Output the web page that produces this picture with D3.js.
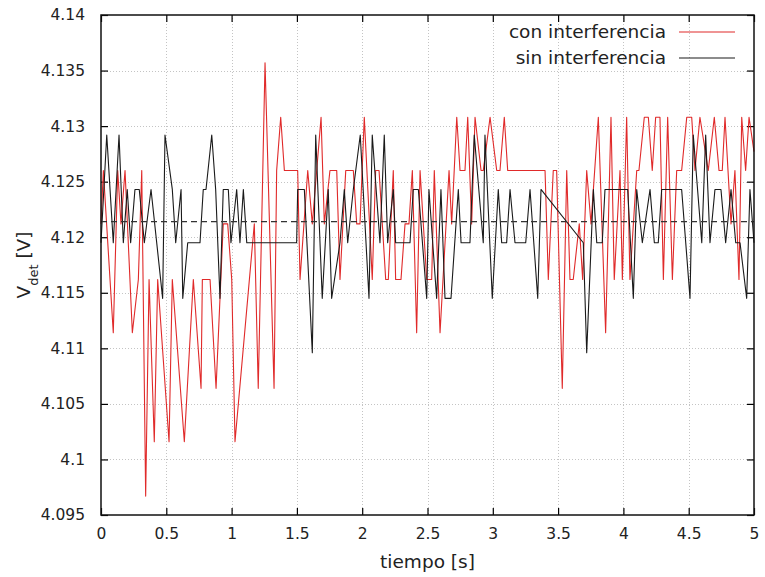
<!DOCTYPE html>
<html><head><meta charset="utf-8">
<script src="https://cdn.jsdelivr.net/npm/d3@7"></script>
<style>body{margin:0;background:#fff}svg{display:block}</style>
</head><body><svg id="c" width="765" height="577"></svg>
<script>
const xTicks=[0,0.5,1,1.5,2,2.5,3,3.5,4,4.5,5];
const xTickLabels=["0","0.5","1","1.5","2","2.5","3","3.5","4","4.5","5"];
const yTicks=[4.095,4.1,4.105,4.11,4.115,4.12,4.125,4.13,4.135,4.14];
const yTickLabels=["4.095","4.1","4.105","4.11","4.115","4.12","4.125","4.13","4.135","4.14"];
const seriesNames=["con interferencia","sin interferencia"];
const refLevel=4.1214;

const conT=[0.000,0.018,0.094,0.128,0.153,0.184,0.240,0.286,0.312,0.342,
0.368,0.408,0.434,0.521,0.546,0.638,0.707,0.766,0.776,0.835,
0.881,0.936,0.970,1.001,1.026,1.174,1.204,1.256,1.325,1.345,
1.376,1.404,1.506,1.524,1.583,1.618,1.685,1.710,1.753,1.805,
1.830,1.874,1.932,1.958,1.983,2.016,2.077,2.103,2.129,2.180,
2.200,2.238,2.256,2.297,2.328,2.358,2.384,2.417,2.443,2.494,
2.532,2.552,2.596,2.665,2.685,2.724,2.749,2.787,2.808,2.838,
2.864,2.910,2.927,2.979,3.030,3.055,3.088,3.114,3.400,3.425,
3.463,3.489,3.532,3.566,3.591,3.616,3.662,3.688,3.719,3.752,
3.808,3.864,3.905,3.930,3.974,3.992,4.025,4.050,4.102,4.119,
4.160,4.191,4.221,4.247,4.280,4.306,4.339,4.375,4.408,4.446,
4.485,4.523,4.548,4.586,4.650,4.696,4.732,4.757,4.778,4.824,
4.854,4.885,4.906,4.936,4.962,5.000];
const conV=[4.1212,4.1260,4.1114,4.1260,4.1212,4.1260,4.1114,4.1162,4.1260,4.0967,
4.1162,4.1016,4.1162,4.1016,4.1162,4.1016,4.1162,4.1064,4.1162,4.1162,
4.1064,4.1212,4.1212,4.1162,4.1016,4.1212,4.1064,4.1357,4.1064,4.1260,
4.1308,4.1260,4.1260,4.1162,4.1260,4.1212,4.1308,4.1212,4.1260,4.1260,
4.1162,4.1260,4.1260,4.1212,4.1212,4.1308,4.1162,4.1260,4.1260,4.1162,
4.1162,4.1260,4.1162,4.1162,4.1212,4.1212,4.1260,4.1114,4.1260,4.1162,
4.1162,4.1260,4.1114,4.1260,4.1212,4.1308,4.1260,4.1260,4.1308,4.1212,
4.1308,4.1260,4.1260,4.1308,4.1260,4.1260,4.1308,4.1260,4.1260,4.1162,
4.1260,4.1260,4.1064,4.1260,4.1162,4.1162,4.1212,4.1162,4.1260,4.1212,
4.1308,4.1114,4.1308,4.1162,4.1260,4.1162,4.1308,4.1162,4.1260,4.1260,
4.1308,4.1308,4.1260,4.1308,4.1308,4.1162,4.1308,4.1162,4.1260,4.1260,
4.1308,4.1308,4.1260,4.1308,4.1260,4.1308,4.1260,4.1260,4.1308,4.1212,
4.1260,4.1162,4.1308,4.1260,4.1308,4.1277];

const sinT=[0.000,0.044,0.094,0.138,0.171,0.201,0.227,0.260,0.293,0.332,
0.383,0.472,0.490,0.546,0.572,0.613,0.626,0.664,0.758,0.783,
0.804,0.848,0.878,0.911,0.936,0.975,0.995,1.039,1.064,1.090,
1.116,1.498,1.506,1.557,1.618,1.644,1.694,1.740,1.766,1.830,
1.863,1.889,1.932,1.985,2.052,2.077,2.136,2.169,2.195,2.238,
2.256,2.366,2.391,2.430,2.494,2.511,2.570,2.603,2.634,2.680,
2.736,2.757,2.825,2.858,2.927,2.940,2.996,3.042,3.068,3.106,
3.132,3.170,3.252,3.285,3.344,3.369,3.693,3.719,3.770,3.796,
3.838,3.859,4.033,4.076,4.102,4.145,4.204,4.237,4.267,4.293,
4.446,4.510,4.535,4.600,4.630,4.663,4.701,4.747,4.783,4.824,
4.860,4.893,4.944,4.969,5.000];
const sinV=[4.1195,4.1292,4.1195,4.1292,4.1195,4.1243,4.1195,4.1243,4.1243,4.1195,
4.1243,4.1145,4.1292,4.1243,4.1195,4.1243,4.1145,4.1195,4.1195,4.1243,
4.1243,4.1292,4.1243,4.1145,4.1243,4.1243,4.1195,4.1243,4.1195,4.1243,
4.1195,4.1195,4.1243,4.1243,4.1096,4.1292,4.1145,4.1243,4.1145,4.1195,
4.1243,4.1195,4.1243,4.1292,4.1145,4.1292,4.1195,4.1292,4.1195,4.1243,
4.1195,4.1195,4.1243,4.1243,4.1145,4.1243,4.1145,4.1243,4.1145,4.1145,
4.1243,4.1195,4.1195,4.1292,4.1195,4.1292,4.1145,4.1243,4.1195,4.1195,
4.1243,4.1195,4.1195,4.1243,4.1145,4.1243,4.1195,4.1096,4.1243,4.1195,
4.1195,4.1243,4.1243,4.1145,4.1243,4.1195,4.1243,4.1195,4.1195,4.1243,
4.1243,4.1145,4.1292,4.1195,4.1292,4.1195,4.1243,4.1243,4.1195,4.1243,
4.1195,4.1195,4.1145,4.1243,4.1195];

const W=765,H=577;
const L=101,R=754,T=15,B=515;
const FONT="'DejaVu Sans', sans-serif";
const svg=d3.select("#c");
svg.append("rect").attr("width",W).attr("height",H).attr("fill","#fff");

const x=d3.scaleLinear().domain([0,5]).range([L,R]);
const y=d3.scaleLinear().domain([4.095,4.14]).range([B,T]);

// grid
const grid=svg.append("g").attr("stroke","#c4c4c4").attr("stroke-width",1).attr("stroke-dasharray","1,2");
grid.selectAll(".gx").data(xTicks.slice(1,-1)).join("line")
  .attr("x1",d=>Math.round(x(d))+0.5).attr("x2",d=>Math.round(x(d))+0.5).attr("y1",T).attr("y2",B);
grid.selectAll(".gy").data(yTicks.slice(1,-1)).join("line")
  .attr("y1",d=>Math.round(y(d))+0.5).attr("y2",d=>Math.round(y(d))+0.5).attr("x1",L).attr("x2",R);

// axes (inward ticks, mirrored)
function styleAxis(g){g.select(".domain").remove();g.selectAll("line").attr("stroke","#000").attr("stroke-width",1.2);
  g.selectAll("text").attr("font-family",FONT).attr("font-size","15.5px").attr("fill","#222");}
const xi=d3.scaleLinear().domain([0,5]).range([L,R]);
svg.append("g").attr("transform",`translate(0,${B})`)
  .call(d3.axisBottom(x).tickValues(xTicks).tickFormat((d,i)=>xTickLabels[i]).tickSizeInner(-7).tickSizeOuter(0).tickPadding(13))
  .call(styleAxis);
svg.append("g").attr("transform",`translate(0,${T})`)
  .call(d3.axisTop(x).tickValues(xTicks).tickFormat("").tickSizeInner(-7).tickSizeOuter(0))
  .call(styleAxis);
svg.append("g").attr("transform",`translate(${L},0)`)
  .call(d3.axisLeft(y).tickValues(yTicks).tickFormat((d,i)=>yTickLabels[i]).tickSizeInner(-7).tickSizeOuter(0).tickPadding(16))
  .call(styleAxis);
svg.append("g").attr("transform",`translate(${R},0)`)
  .call(d3.axisRight(y).tickValues(yTicks).tickFormat("").tickSizeInner(-7).tickSizeOuter(0))
  .call(styleAxis);

// data lines
const conData=conT.map((t,i)=>[t,conV[i]]);
const sinData=sinT.map((t,i)=>[t,sinV[i]]);
const line=d3.line().x(d=>x(d[0])).y(d=>y(d[1]));
svg.append("path").datum(conData).attr("d",line).attr("fill","none").attr("stroke","#e02a2a").attr("stroke-width",1.1).attr("stroke-linejoin","round");
svg.append("path").datum(sinData).attr("d",line).attr("fill","none").attr("stroke","#1a1a1a").attr("stroke-width",1.1).attr("stroke-linejoin","round");

// reference dashed line
svg.append("line").attr("x1",x(0)).attr("x2",x(5)).attr("y1",y(refLevel)).attr("y2",y(refLevel))
  .attr("stroke","#333").attr("stroke-width",1.3).attr("stroke-dasharray","6,4");

// frame
svg.append("rect").attr("x",L).attr("y",T).attr("width",R-L).attr("height",B-T)
  .attr("fill","none").attr("stroke","#111").attr("stroke-width",1.5);

// legend
const legend=[{name:seriesNames[0],color:"#e02a2a"},{name:seriesNames[1],color:"#1a1a1a"}];
const lg=svg.append("g");
legend.forEach((d,i)=>{
  const yy=32+i*26;
  lg.append("text").attr("x",666).attr("y",yy+6).attr("text-anchor","end")
    .attr("font-family",FONT).attr("font-size","18.5px").attr("fill","#222").text(d.name);
  lg.append("line").attr("x1",679).attr("x2",735).attr("y1",yy).attr("y2",yy)
    .attr("stroke",d.color).attr("stroke-width",1.1);
});

// axis labels
svg.append("text").attr("x",(L+R)/2).attr("y",568).attr("text-anchor","middle")
  .attr("font-family",FONT).attr("font-size","18.5px").attr("fill","#222").text("tiempo [s]");
const yl=svg.append("text").attr("transform",`translate(30,${(T+B)/2}) rotate(-90)`).attr("text-anchor","middle")
  .attr("font-family",FONT).attr("font-size","18.5px").attr("fill","#222");
yl.append("tspan").text("V");
yl.append("tspan").attr("font-size","13px").attr("baseline-shift","sub").text("det");
yl.append("tspan").text(" [V]");
</script></body></html>
